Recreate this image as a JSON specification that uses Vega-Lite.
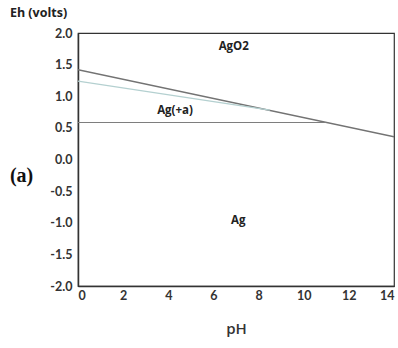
{
  "$schema": "https://vega.github.io/schema/vega-lite/v6.json",
  "width": 316,
  "height": 253,
  "autosize": {"type": "none"},
  "padding": {"left": 78, "top": 33, "right": 4, "bottom": 62},
  "background": "white",
  "config": {
    "view": {"stroke": "#333333", "strokeWidth": 1.2},
    "font": "Lato"
  },
  "datasets": {
    "lines": [
      {"series": "AgO2 boundary", "pH": 0, "Eh": 1.42},
      {"series": "AgO2 boundary", "pH": 14, "Eh": 0.36},
      {"series": "water", "pH": 0, "Eh": 1.24},
      {"series": "water", "pH": 8.5, "Eh": 0.78},
      {"series": "Ag boundary", "pH": 0, "Eh": 0.585},
      {"series": "Ag boundary", "pH": 11.0, "Eh": 0.585}
    ],
    "labels": [
      {"label": "AgO2", "pH": 6.9, "Eh": 1.78},
      {"label": "Ag(+a)", "pH": 4.3, "Eh": 0.76},
      {"label": "Ag", "pH": 7.1, "Eh": -0.98}
    ],
    "panel": [
      {"label": "(a)", "pH": -2.5, "Eh": -0.26}
    ]
  },
  "encoding": {
    "x": {
      "field": "pH", "type": "quantitative",
      "scale": {"domain": [0, 14], "nice": false, "zero": false},
      "axis": {
        "title": "pH", "titleFont": "Open Sans", "titleFontSize": 15, "titleFontWeight": 600,
        "titleColor": "#333333", "titlePadding": 20,
        "values": [0, 2, 4, 6, 8, 10, 12, 14],
        "labelFont": "Lato", "labelFontWeight": "bold", "labelFontSize": 12.5, "labelColor": "#333333",
        "labelPadding": 3, "labelOverlap": false,
        "grid": false, "domainColor": "#333333", "domainWidth": 1.5,
        "ticks": false
      }
    },
    "y": {
      "field": "Eh", "type": "quantitative",
      "scale": {"domain": [-2, 2], "nice": false, "zero": false},
      "axis": {
        "title": "Eh (volts)", "titleAngle": 0, "titleAlign": "center", "titleBaseline": "middle",
        "titleX": -40, "titleY": -21, "titleFont": "Open Sans", "titleFontSize": 12.5, "titleFontWeight": "bold",
        "titleColor": "#222222",
        "values": [-2, -1.5, -1, -0.5, 0, 0.5, 1, 1.5, 2],
        "labelExpr": "datum.value < 0 ? '-' + format(-datum.value, '.1f') : format(datum.value, '.1f')",
        "labelFont": "Lato", "labelFontWeight": "bold", "labelFontSize": 12.5, "labelColor": "#333333",
        "labelPadding": 6, "labelOverlap": false,
        "grid": false, "domainColor": "#333333", "domainWidth": 1.5,
        "ticks": false
      }
    }
  },
  "layer": [
    {
      "data": {"name": "lines"},
      "mark": {"type": "line", "clip": true},
      "encoding": {
        "detail": {"field": "series"},
        "color": {
          "field": "series", "type": "nominal",
          "scale": {"domain": ["AgO2 boundary", "water", "Ag boundary"], "range": ["#737373", "#b4d0d0", "#7e7e7e"]},
          "legend": null
        },
        "strokeWidth": {
          "field": "series", "type": "nominal",
          "scale": {"domain": ["AgO2 boundary", "water", "Ag boundary"], "range": [1.6, 1.1, 1.5]},
          "legend": null
        }
      }
    },
    {
      "data": {"name": "labels"},
      "mark": {"type": "text", "font": "Open Sans", "fontWeight": "bold", "fontSize": 11.5, "color": "#222222"},
      "encoding": {
        "text": {"field": "label"}
      }
    },
    {
      "data": {"name": "panel"},
      "mark": {"type": "text", "font": "Liberation Serif", "fontWeight": "bold", "fontSize": 20, "color": "#111111", "clip": false},
      "encoding": {
        "text": {"field": "label"}
      }
    }
  ]
}
